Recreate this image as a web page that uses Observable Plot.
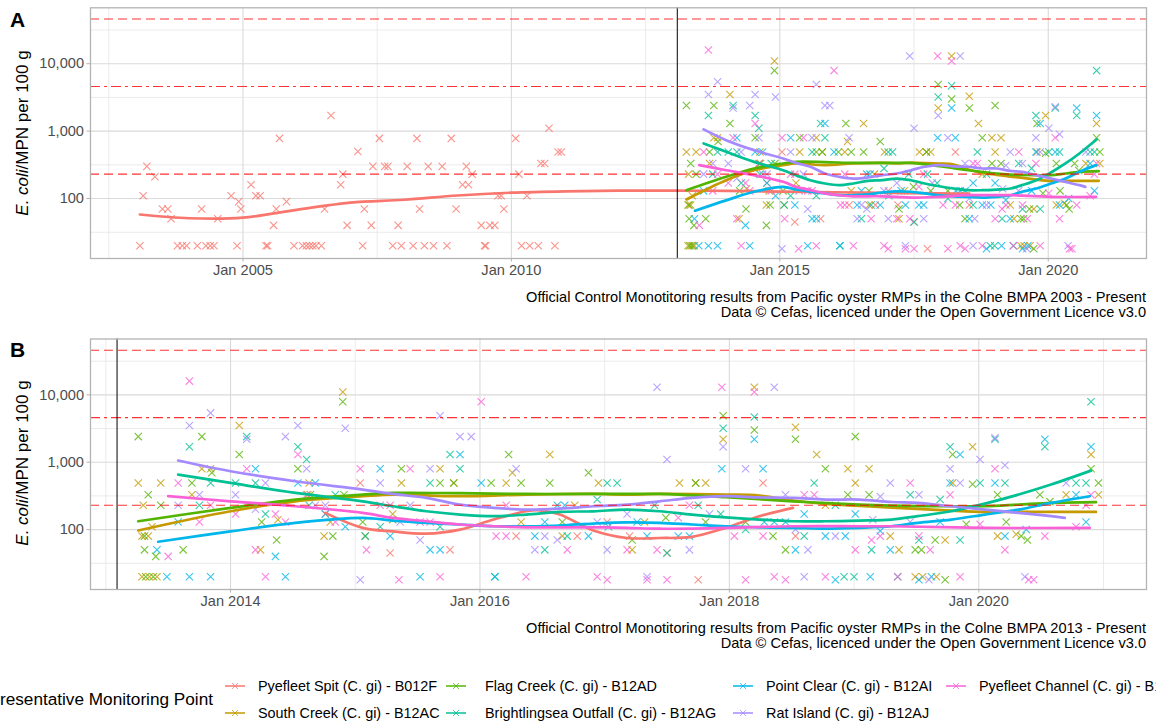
<!DOCTYPE html>
<html><head><meta charset="utf-8">
<script src="https://cdn.jsdelivr.net/npm/d3@7"></script>
<script src="https://cdn.jsdelivr.net/npm/@observablehq/plot@0.6"></script>
<style>
html,body{margin:0;padding:0;background:#fff;overflow:hidden;}
body{width:1156px;height:724px;position:relative;font-family:"Liberation Sans",Arial,sans-serif;}
.abs{position:absolute;white-space:nowrap;}
.tag{font-weight:bold;font-size:21px;color:#000;line-height:21px;}
.ytitle{font-size:17px;color:#000;transform:translate(-50%,-50%) rotate(-90deg);line-height:17px;}
.cap{right:10px;text-align:right;font-size:14.6px;line-height:15px;color:#000;}
.leg{font-size:14.4px;line-height:16px;color:#000;}
.legtitle{font-size:17.2px;line-height:18px;color:#000;}
</style></head><body>
<script>
// ---------------- data ----------------
const seriesNames = ["Pyefleet Spit (C. gi) - B012F","South Creek (C. gi) - B12AC","Flag Creek (C. gi) - B12AD","Brightlingsea Outfall (C. gi) - B12AG","Point Clear (C. gi) - B12AI","Rat Island (C. gi) - B12AJ","Pyefleet Channel (C. gi) - B12AH"];
const seriesColors = ["#F8766D","#C49A00","#53B400","#00C094","#00B6EB","#A58AFF","#FB61D7"];

// [decimal year, E. coli MPN/100 g]
const spitPts = [[2003.08,20],[2003.14,110],[2003.21,300],[2003.36,210],[2003.50,70],[2003.60,70],[2003.66,50],[2003.78,20],[2003.87,20],[2003.95,20],[2004.15,20],[2004.23,70],[2004.31,20],[2004.39,20],[2004.46,20],[2004.53,50],[2004.78,110],[2004.89,20],[2004.92,90],[2004.96,70],[2005.15,160],[2005.24,110],[2005.32,110],[2005.43,20],[2005.46,20],[2005.57,40],[2005.62,70],[2005.68,780],[2005.81,90],[2005.95,20],[2006.11,20],[2006.18,20],[2006.24,20],[2006.30,20],[2006.36,20],[2006.46,20],[2006.52,70],[2006.64,1700],[2006.82,160],[2006.86,230],[2006.94,40],[2007.14,500],[2007.23,20],[2007.26,70],[2007.39,40],[2007.42,300],[2007.54,780],[2007.64,300],[2007.70,300],[2007.79,20],[2007.89,40],[2007.95,20],[2008.06,300],[2008.17,20],[2008.24,780],[2008.29,70],[2008.38,20],[2008.45,300],[2008.55,20],[2008.71,300],[2008.80,20],[2008.88,780],[2008.97,70],[2009.09,160],[2009.16,300],[2009.20,160],[2009.27,230],[2009.44,40],[2009.50,20],[2009.52,20],[2009.60,40],[2009.69,40],[2009.75,110],[2009.81,110],[2009.86,70],[2010.08,780],[2010.14,230],[2010.19,20],[2010.29,110],[2010.34,20],[2010.50,20],[2010.55,330],[2010.62,330],[2010.70,1100],[2010.81,20],[2010.87,490],[2010.93,490],
 [2014.76,170],[2015.04,490],[2015.28,45],[2015.76,50],[2016.29,80],[2016.78,80],[2017.02,130],[2017.20,80],[2017.50,45],[2017.75,18],[2018.27,490],[2018.53,80]];
const southPts = [[2013.26,490],[2013.29,80],[2013.29,20],[2013.30,230],[2013.34,80],[2013.35,20],[2013.37,110],[2013.41,20],[2013.44,490],[2013.69,330],[2013.77,800],[2013.84,800],[2014.07,3500],[2014.24,50],[2014.38,140],[2014.62,330],[2014.63,490],[2014.75,80],[2014.80,130],[2014.90,11000],[2015.08,80],[2015.30,170],[2015.37,490],[2015.68,800],[2015.79,490],[2016.21,490],[2016.26,700],[2016.33,130],[2016.56,1300],[2016.66,80],[2016.76,230],[2016.95,490],[2017.22,50],[2017.32,130],[2017.60,490],[2017.73,490],[2017.81,490],[2017.95,2200],[2018.20,13000],[2018.53,3300],[2018.70,1300],[2018.77,230],[2018.95,800],[2019.01,490],[2019.12,800],[2019.29,80],[2019.36,50],[2019.49,20],[2019.55,20],[2019.66,20],[2019.73,70],[2019.79,490],[2019.95,1700],[2020.15,80],[2020.30,85],[2020.70,330],[2020.90,1300],[2020.96,330]];
const flagPts = [[2013.26,2400],[2013.31,80],[2013.31,50],[2013.32,20],[2013.34,330],[2013.38,20],[2013.40,40],[2013.44,230],[2013.62,50],[2013.69,490],[2013.77,2400],[2013.85,700],[2014.07,1300],[2014.25,130],[2014.37,70],[2014.54,800],[2014.64,330],[2014.75,40],[2014.82,80],[2014.90,7900],[2014.91,330],[2015.06,130],[2015.30,140],[2015.37,800],[2015.68,490],[2015.79,490],[2016.09,490],[2016.23,1300],[2016.33,490],[2016.56,490],[2016.66,130],[2016.87,700],[2017.22,70],[2017.49,150],[2017.73,490],[2017.81,130],[2017.95,4900],[2018.13,130],[2018.20,3000],[2018.35,80],[2018.45,50],[2018.53,2200],[2018.77,800],[2018.95,330],[2019.01,2400],[2019.12,330],[2019.49,50],[2019.54,50],[2019.65,70],[2019.73,18],[2019.79,1300],[2019.90,120],[2019.95,470],[2020.15,330],[2020.22,130],[2020.34,80],[2020.39,70],[2020.49,330],[2020.57,260],[2020.90,800],[2020.96,490]];
const brightPts = [[2013.67,1700],[2013.75,230],[2013.84,490],[2014.04,490],[2014.13,2400],[2014.20,490],[2014.28,170],[2014.54,1700],[2014.61,1100],[2014.63,230],[2014.84,330],[2015.08,80],[2015.20,110],[2015.60,490],[2015.68,110],[2015.76,1300],[2015.84,800],[2016.12,20],[2016.52,50],[2016.70,80],[2016.94,280],[2017.02,490],[2017.10,490],[2017.40,230],[2017.50,45],[2017.75,230],[2017.93,170],[2017.95,3200],[2018.13,100],[2018.20,4700],[2018.60,80],[2018.68,490],[2018.85,230],[2018.92,20],[2019.00,20],[2019.14,50],[2019.35,20],[2019.45,330],[2019.52,70],[2019.69,280],[2019.77,1700],[2019.85,70],[2020.01,490],[2020.13,2200],[2020.21,490],[2020.53,1700],[2020.78,490],[2020.86,490],[2020.90,7900]];
const pointPts = [[2013.41,50],[2013.49,20],[2013.58,130],[2013.67,20],[2013.84,20],[2014.20,800],[2014.36,40],[2014.44,20],[2014.54,490],[2014.68,490],[2014.76,170],[2014.92,110],[2015.20,800],[2015.28,80],[2015.52,20],[2015.60,50],[2015.68,50],[2015.84,1300],[2016.01,490],[2016.12,20],[2016.44,80],[2016.52,130],[2016.62,230],[2016.68,230],[2016.87,80],[2017.03,110],[2017.26,130],[2017.34,80],[2017.59,80],[2017.68,80],[2017.94,800],[2018.20,2200],[2018.27,800],[2018.28,130],[2018.36,130],[2018.45,130],[2018.53,50],[2018.60,170],[2018.77,80],[2018.85,18],[2018.93,80],[2019.01,170],[2019.13,20],[2019.21,95],[2019.29,50],[2019.52,18],[2019.62,20],[2019.69,130],[2019.77,490],[2019.85,1300],[2020.13,490],[2020.21,80],[2020.38,100],[2020.53,2200],[2020.78,330],[2020.86,130],[2020.90,1700]];
const ratPts = [[2013.58,230],[2013.67,3500],[2013.75,330],[2013.84,5400],[2014.04,330],[2014.13,2200],[2014.20,200],[2014.28,490],[2014.44,2400],[2014.54,3500],[2014.61,800],[2014.68,230],[2014.76,230],[2014.92,3200],[2015.04,18],[2015.20,490],[2015.36,130],[2015.44,230],[2015.52,70],[2015.60,800],[2015.68,4900],[2015.84,2400],[2015.93,2400],[2016.29,800],[2016.44,50],[2016.52,80],[2016.62,70],[2016.94,130],[2017.02,50],[2017.18,170],[2017.34,20],[2017.42,13000],[2017.50,1100],[2017.68,50],[2017.84,170],[2017.95,1700],[2018.13,800],[2018.36,13000],[2018.45,330],[2018.53,100],[2018.60,20],[2018.63,50],[2018.85,80],[2019.15,140],[2019.21,310],[2019.29,490],[2019.45,130],[2019.52,330],[2019.60,18],[2019.77,800],[2019.85,490],[2020.01,1100],[2020.13,2300],[2020.21,900],[2020.37,20],[2020.70,490]];
const channelPts = [[2013.50,40],[2013.58,490],[2013.67,16000],[2013.75,130],[2013.84,230],[2014.04,170],[2014.13,800],[2014.20,50],[2014.28,20],[2014.36,170],[2014.44,130],[2014.54,1300],[2014.61,330],[2014.84,130],[2015.04,800],[2015.09,50],[2015.20,230],[2015.28,230],[2015.35,18],[2015.44,800],[2015.52,130],[2015.60,130],[2015.68,20],[2016.01,7900],[2016.13,80],[2016.21,80],[2016.21,230],[2016.37,20],[2016.70,50],[2016.94,20],[2017.02,18],[2017.18,50],[2017.34,18],[2017.42,50],[2017.50,18],[2017.59,150],[2017.68,230],[2017.94,13000],[2018.04,80],[2018.13,18],[2018.20,11000],[2018.27,80],[2018.36,20],[2018.45,18],[2018.60,330],[2018.68,330],[2018.77,20],[2019.01,50],[2019.14,70],[2019.21,80],[2019.35,20],[2019.45,490],[2019.52,80],[2019.61,50],[2019.77,330],[2019.85,20],[2020.01,120],[2020.13,800],[2020.21,50],[2020.40,18],[2020.44,18],[2020.53,80],[2020.78,110],[2020.86,230],[2020.90,330]];

// smoothed trend values
const spitSmoothA = [[2003.08,58],[2004,51],[2005,52],[2006,68],[2007,87],[2008,96],[2009,111],[2010,122],[2011,128],[2012,131],[2013,131],[2014,130],[2015,127],[2016,124],[2017,121],[2018,119],[2018.53,118]];
const spitSmoothB = [[2014.76,177],[2015.06,106],[2015.30,94],[2015.57,87],[2015.84,100],[2016.11,141],[2016.37,187],[2016.48,193],[2016.64,167],[2016.91,97],[2017.18,75],[2017.44,75],[2017.70,78],[2017.97,106],[2018.24,158],[2018.51,210]];
const southSmooth = [[2013.26,97],[2014.0,187],[2014.52,263],[2015.06,313],[2015.30,331],[2015.84,313],[2016.37,331],[2016.91,338],[2017.18,331],[2017.44,338],[2017.97,331],[2018.24,320],[2018.51,270],[2018.77,240],[2019.04,225],[2019.30,212],[2019.78,191],[2020.05,183],[2020.32,183],[2020.94,183]];
const flagSmooth = [[2013.26,133],[2014.0,210],[2014.52,279],[2015.06,331],[2015.30,350],[2015.84,347],[2016.37,338],[2016.91,338],[2017.18,338],[2017.44,338],[2017.97,302],[2018.51,263],[2019.04,235],[2019.30,227],[2019.78,222],[2020.05,222],[2020.32,235],[2020.58,249],[2020.94,255]];
const brightSmooth = [[2013.58,656],[2014.0,493],[2014.52,350],[2015.06,263],[2015.30,222],[2015.57,187],[2015.84,167],[2016.11,158],[2016.37,167],[2016.64,183],[2016.91,187],[2017.18,198],[2017.44,187],[2017.70,167],[2017.97,152],[2018.24,141],[2018.51,133],[2018.77,133],[2019.04,136],[2019.30,141],[2019.51,158],[2019.78,187],[2020.05,243],[2020.32,331],[2020.58,466],[2020.90,750]];
const pointSmooth = [[2013.42,66],[2014.0,94],[2014.52,126],[2015.06,149],[2015.30,136],[2015.57,126],[2015.84,119],[2016.11,112],[2016.37,112],[2016.64,115],[2016.91,123],[2017.18,128],[2017.44,126],[2017.70,119],[2017.97,112],[2018.24,108],[2018.51,106],[2018.77,103],[2019.04,106],[2019.30,112],[2019.51,126],[2019.78,141],[2020.05,167],[2020.32,198],[2020.58,249],[2020.89,313]];
const ratSmooth = [[2013.58,1060],[2014.0,735],[2014.52,522],[2015.06,393],[2015.30,338],[2015.57,296],[2015.84,235],[2016.11,210],[2016.37,198],[2016.64,205],[2016.91,222],[2017.18,235],[2017.44,263],[2017.70,296],[2017.97,313],[2018.24,300],[2018.51,296],[2018.77,279],[2019.04,279],[2019.30,257],[2019.51,249],[2019.78,222],[2020.05,198],[2020.32,177],[2020.58,158],[2020.69,149]];
const channelSmooth = [[2013.50,313],[2014.0,263],[2014.52,222],[2015.06,177],[2015.30,149],[2015.57,133],[2015.84,119],[2016.11,112],[2016.37,108],[2016.64,108],[2016.91,108],[2017.18,106],[2017.44,103],[2017.97,106],[2018.51,112],[2019.04,112],[2019.30,112],[2020.05,106],[2020.89,106]];

// reference limits and axis ticks
const limitDashed = [230, 46000];
const limitDotDash = [4600];
const closureLine = [2013.09];
const yMajor = [100, 1000, 10000];
const yMinor = [31.62, 316.2, 3162, 31620];
const xMajorA = [2005, 2010, 2015, 2020];
const xMinorA = [2002.5, 2007.5, 2012.5, 2017.5];
const xMajorB = [2014, 2016, 2018, 2020];
const xMinorB = [2013, 2015, 2017, 2019, 2021];
const captionA = ["Official Control Monotitoring results from Pacific oyster RMPs in the Colne BMPA 2003 - Present","Data © Cefas, licenced under the Open Government Licence v3.0"];
const captionB = ["Official Control Monotitoring results from Pacific oyster RMPs in the Colne BMPA 2013 - Present","Data © Cefas, licenced under the Open Government Licence v3.0"];
const legendTitle = "Representative Monitoring Point";

// ---------------- build tables ----------------
const allPts = [spitPts, southPts, flagPts, brightPts, pointPts, ratPts, channelPts];
const points = [];
allPts.forEach((arr,i)=>arr.forEach(([t,v])=>points.push({series:seriesNames[i], t, v})));
function smoothTable(list){const out=[];list.forEach(([arr,i])=>arr.forEach(([t,v])=>out.push({series:seriesNames[i],t,v})));return out;}
const othersSmooth = [[southSmooth,1],[flagSmooth,2],[brightSmooth,3],[pointSmooth,4],[ratSmooth,5],[channelSmooth,6]];
const smoothA = smoothTable([[spitSmoothA,0],...othersSmooth]);
const smoothB = smoothTable([[spitSmoothB,0],...othersSmooth]);

function panel({xDomain, xMajor, xMinor, pts, smooth, marginTop, marginBottom}){
  return Plot.plot({
    width:1156, height:290,
    marginLeft:90, marginRight:10, marginTop, marginBottom,
    style:{fontFamily:"Liberation Sans, Arial, sans-serif", fontSize:"14.6px", color:"#4D4D4D", background:"white", overflow:"visible"},
    x:{domain:xDomain},
    y:{type:"log", domain:[12.9, 67500]},
    color:{domain:seriesNames, range:seriesColors},
    marks:[
      Plot.ruleX(xMinor, {stroke:"#E6E6E6", strokeWidth:0.8}),
      Plot.ruleY(yMinor, {stroke:"#E6E6E6", strokeWidth:0.8}),
      Plot.ruleX(xMajor, {stroke:"#DADADA", strokeWidth:1.1}),
      Plot.ruleY(yMajor, {stroke:"#DADADA", strokeWidth:1.1}),
      Plot.dot(pts, {x:"t", y:"v", stroke:"series", symbol:"times", r:3.4, strokeWidth:1.1, strokeOpacity:0.78}),
      Plot.line(smooth, {x:"t", y:"v", stroke:"series", z:"series", strokeWidth:2.7, curve:"catmull-rom"}),
      Plot.ruleY(limitDashed, {stroke:"#FF0000", strokeOpacity:0.8, strokeWidth:1.1, strokeDasharray:"9,5"}),
      Plot.ruleY(limitDotDash, {stroke:"#FF0000", strokeOpacity:0.8, strokeWidth:1.1, strokeDasharray:"10,4,3,4"}),
      Plot.ruleX(closureLine, {stroke:"#000", strokeWidth:1}),
      Plot.frame({stroke:"#B3B3B3", strokeWidth:1.3}),
      Plot.axisX({ticks:xMajor, tickFormat:d=>"Jan "+d, tickSize:3.5, tickPadding:3, stroke:"#B3B3B3", label:null}),
      Plot.axisY({ticks:yMajor, tickFormat:d3.format(","), tickSize:3.5, tickPadding:3, stroke:"#B3B3B3", label:null})
    ]
  });
}

function place(el, left, top){el.style.position="absolute";el.style.left=left+"px";el.style.top=top+"px";document.body.appendChild(el);}
function div(cls, html, css){const d=document.createElement("div");d.className="abs "+cls;d.innerHTML=html;Object.assign(d.style,css||{});document.body.appendChild(d);return d;}

const chartA = panel({xDomain:[2002.16,2021.83], xMajor:xMajorA, xMinor:xMinorA, pts:points, smooth:smoothA, marginTop:7.3, marginBottom:32});
place(chartA, 0, 0);
const chartB = panel({xDomain:[2012.877,2021.345], xMajor:xMajorB, xMinor:xMinorB, pts:points.filter(d=>d.t>=2012.877), smooth:smoothB, marginTop:8.5, marginBottom:31});
place(chartB, 0, 330);

// tags, axis titles, captions
div("tag","A",{left:"10px",top:"9px"});
div("tag","B",{left:"10px",top:"339px"});
div("ytitle","<i>E. coli</i>/MPN per 100 g",{left:"22px",top:"133px"});
div("ytitle","<i>E. coli</i>/MPN per 100 g",{left:"22px",top:"463px"});
div("cap",captionA.join("<br>"),{top:"290px"});
div("cap",captionB.join("<br>"),{top:"621px"});

// legend
div("legtitle",legendTitle,{right:(1156-213)+"px",top:"690px"});
const legCols = [[234.5,258],[455.5,485],[743,766],[956,979]];
const legRows = [686, 713];
seriesNames.forEach((name,i)=>{
  const col = Math.floor(i/2), row = i%2;
  const [kx, tx] = legCols[col];
  const cy = legRows[row];
  const key = document.createElementNS("http://www.w3.org/2000/svg","svg");
  key.setAttribute("width",22);key.setAttribute("height",14);
  key.innerHTML = `<line x1="1" x2="21" y1="7" y2="7" stroke="${seriesColors[i]}" stroke-width="2" stroke-opacity="0.75"/><path d="M8,4L14,10M8,10L14,4" stroke="${seriesColors[i]}" stroke-width="1" stroke-opacity="0.75"/>`;
  key.style.position="absolute";key.style.left=(kx-11)+"px";key.style.top=(cy-7)+"px";
  document.body.appendChild(key);
  div("leg",name,{left:tx+"px",top:(cy-8)+"px"});
});
</script>
</body></html>
